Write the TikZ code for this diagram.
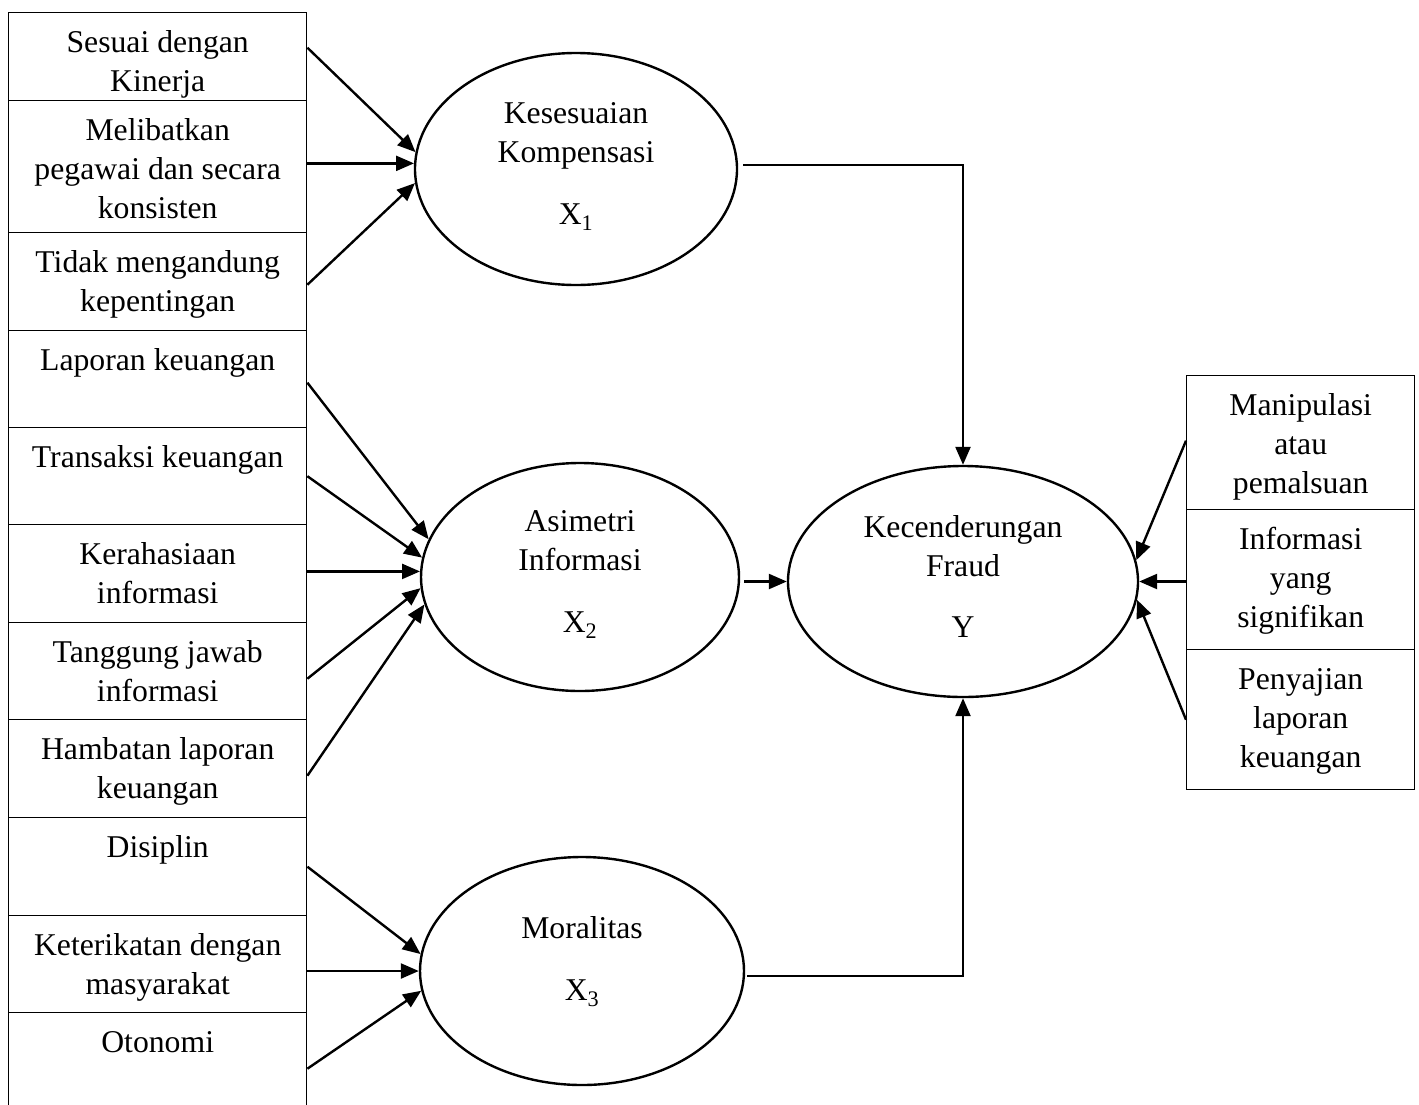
\documentclass[tikz,border=0pt]{standalone}
\usepackage{fontspec}
\setmainfont{Liberation Serif}
\usetikzlibrary{arrows.meta,shapes.geometric,calc}
\newcommand\dgfont{\fontsize{31.7}{39}\selectfont}
\begin{document}
\begin{tikzpicture}[x=1pt,y=-1pt,
  box/.style={draw, line width=1.4pt, rectangle, inner sep=0pt, anchor=north west},
  lbox/.style={box, minimum width=298pt},
  rbox/.style={box, minimum width=228pt},
  oval/.style={draw, ellipse, line width=2.4pt, inner sep=0pt},
  txt/.style={inner sep=0pt, align=center, font=\dgfont, anchor=north},
  arr/.style={line width=2.4pt, -{Triangle[length=18pt,width=15pt]}},
]
\useasboundingbox (0,0) rectangle (1419,1104);
\clip (0,0) rectangle (1419,1104);

% left indicator boxes
\node[lbox, minimum height=88pt]  (L1)  at (8,12)   {};
\node[lbox, minimum height=132pt] (L2)  at (8,100)  {};
\node[lbox, minimum height=98pt]  (L3)  at (8,232)  {};
\node[lbox, minimum height=97pt]  (L4)  at (8,330)  {};
\node[lbox, minimum height=97pt]  (L5)  at (8,427)  {};
\node[lbox, minimum height=98pt]  (L6)  at (8,524)  {};
\node[lbox, minimum height=97pt]  (L7)  at (8,622)  {};
\node[lbox, minimum height=98pt]  (L8)  at (8,719)  {};
\node[lbox, minimum height=98pt]  (L9)  at (8,817)  {};
\node[lbox, minimum height=97pt]  (L10) at (8,915)  {};
\node[lbox, minimum height=98pt]  (L11) at (8,1012) {};

\node[txt] (L1t)  at ([yshift=-13.2pt]L1.north)  {\strut Sesuai dengan\\Kinerja};
\node[txt] (L2t)  at ([yshift=-13.2pt]L2.north)  {\strut Melibatkan\\pegawai dan secara\\konsisten};
\node[txt] (L3t)  at ([yshift=-13.2pt]L3.north)  {\strut Tidak mengandung\\kepentingan};
\node[txt] (L4t)  at ([yshift=-13.2pt]L4.north)  {\strut Laporan keuangan};
\node[txt] (L5t)  at ([yshift=-13.2pt]L5.north)  {\strut Transaksi keuangan};
\node[txt] (L6t)  at ([yshift=-13.2pt]L6.north)  {\strut Kerahasiaan\\informasi};
\node[txt] (L7t)  at ([yshift=-13.2pt]L7.north)  {\strut Tanggung jawab\\informasi};
\node[txt] (L8t)  at ([yshift=-13.2pt]L8.north)  {\strut Hambatan laporan\\keuangan};
\node[txt] (L9t)  at ([yshift=-13.2pt]L9.north)  {\strut Disiplin};
\node[txt] (L10t) at ([yshift=-13.2pt]L10.north) {\strut Keterikatan dengan\\masyarakat};
\node[txt] (L11t) at ([yshift=-13.2pt]L11.north) {\strut Otonomi};

% right indicator boxes
\node[rbox, minimum height=134pt] (R1) at (1186,375) {};
\node[rbox, minimum height=140pt] (R2) at (1186,509) {};
\node[rbox, minimum height=140pt] (R3) at (1186,649) {};
\node[txt] (R1t) at ([yshift=-13.2pt]R1.north) {\strut Manipulasi\\atau\\pemalsuan};
\node[txt] (R2t) at ([yshift=-13.2pt]R2.north) {\strut Informasi\\yang\\signifikan};
\node[txt] (R3t) at ([yshift=-13.2pt]R3.north) {\strut Penyajian\\laporan\\keuangan};

% latent variables
\node[oval, minimum width=322pt, minimum height=232pt] (X1) at (576,169) {};
\node[oval, minimum width=318pt, minimum height=228pt] (X2) at (580,577) {};
\node[oval, minimum width=324pt, minimum height=228pt] (X3) at (582,971) {};
\node[oval, minimum width=350pt, minimum height=231pt] (Y)  at (963,581.5) {};

\node[txt] (X1t) at (576,96)    {\strut Kesesuaian\\Kompensasi\\[22.7pt]X\textsubscript{1}};
\node[txt] (X2t) at (580,504.4) {\strut Asimetri\\Informasi\\[22.5pt]X\textsubscript{2}};
\node[txt] (X3t) at (582,910.7) {\strut Moralitas\\[23pt]X\textsubscript{3}};
\node[txt] (Yt)  at (963,509.7) {\strut Kecenderungan\\Fraud\\[22.5pt]Y};

% arrows into X1
\draw[arr] ([yshift=9pt]L1.east) -- (X1.174);
\draw[arr] (X1.178 -| L2.east) -- (X1.178);
\draw[arr] ([yshift=-3pt]L3.east) -- (X1.185);

% arrows into X2
\draw[arr] ([yshift=-3.5pt]L4.east) -- (X2.166);
\draw[arr] (L5.east) -- (X2.173);
\draw[arr] (X2.178 -| L6.east) -- (X2.178);
\draw[arr] ([yshift=-7.5pt]L7.east) -- (X2.184);
\draw[arr] ([yshift=-7pt]L8.east) -- (X2.190);

% arrows into X3
\draw[arr] (L9.east) -- (X3.174);
\draw[arr] (X3.west -| L10.east) -- (X3.west);
\draw[arr] ([yshift=-7pt]L11.east) -- (X3.187);

% structural paths into Y
\draw[arr] ([xshift=5pt,yshift=4pt]X1.east) -| (Y.north);
\draw[arr] ($(Y.west -| X2.east)+(4,0)$) -- (Y.west);
\draw[arr] ([xshift=2pt,yshift=-5pt]X3.east) -| (Y.south);

% indicators of Y
\draw[arr] ([yshift=2pt]R1.west) -- (Y.7);
\draw[arr] (Y.east -| R2.west) -- (Y.east);
\draw[arr] (R3.west) -- (Y.354);
\end{tikzpicture}
\end{document}
